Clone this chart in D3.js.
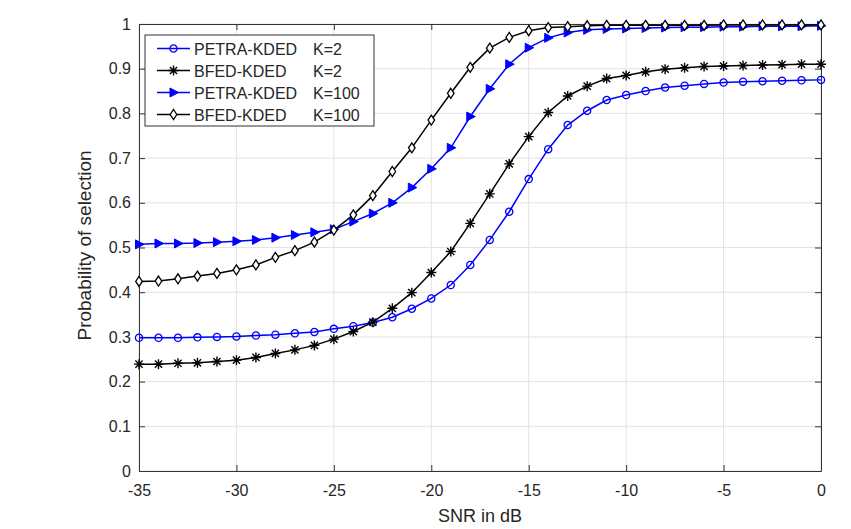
<!DOCTYPE html>
<html>
<head>
<meta charset="utf-8">
<script src="https://cdn.jsdelivr.net/npm/d3@7"></script>
<style>
  body { margin: 0; background: #fff; }
  svg text { font-family: "Liberation Sans", Arial, sans-serif; fill: #262626; }
</style>
</head>
<body>
<script>
// SNR values (dB)
const snr = [-35, -34, -33, -32, -31, -30, -29, -28, -27, -26, -25, -24, -23, -22, -21, -20, -19, -18,
             -17, -16, -15, -14, -13, -12, -11, -10, -9, -8, -7, -6, -5, -4, -3, -2, -1, 0];

const petraK2 = [0.298, 0.298, 0.298, 0.299, 0.300, 0.301, 0.303, 0.305, 0.308, 0.311, 0.318, 0.324,
                 0.332, 0.344, 0.363, 0.386, 0.416, 0.461, 0.517, 0.580, 0.653, 0.720, 0.774, 0.806,
                 0.830, 0.841, 0.850, 0.858, 0.862, 0.866, 0.869, 0.871, 0.872, 0.873, 0.874, 0.875];

const bfedK2 = [0.239, 0.239, 0.241, 0.242, 0.245, 0.248, 0.254, 0.263, 0.271, 0.281, 0.295, 0.312,
                0.333, 0.364, 0.399, 0.444, 0.491, 0.554, 0.620, 0.687, 0.748, 0.802, 0.839, 0.861,
                0.878, 0.885, 0.893, 0.899, 0.902, 0.905, 0.906, 0.907, 0.908, 0.909, 0.910, 0.910];

const petraK100 = [0.507, 0.509, 0.509, 0.510, 0.512, 0.514, 0.517, 0.522, 0.528, 0.534, 0.541, 0.558,
                   0.576, 0.600, 0.634, 0.676, 0.723, 0.793, 0.855, 0.910, 0.947, 0.969, 0.981, 0.987,
                   0.989, 0.990, 0.991, 0.992, 0.993, 0.993, 0.994, 0.994, 0.995, 0.995, 0.995, 0.996];

const bfedK100 = [0.424, 0.425, 0.430, 0.436, 0.442, 0.450, 0.461, 0.478, 0.493, 0.512, 0.539, 0.573,
                  0.616, 0.670, 0.723, 0.785, 0.845, 0.903, 0.946, 0.970, 0.985, 0.992, 0.994, 0.996,
                  0.997, 0.997, 0.997, 0.997, 0.997, 0.997, 0.998, 0.998, 0.998, 0.998, 0.998, 0.998];

const xTicks = [-35, -30, -25, -20, -15, -10, -5, 0];
const yTicks = [0, 0.1, 0.2, 0.3, 0.4, 0.5, 0.6, 0.7, 0.8, 0.9, 1];

const series = [
  { name: 'PETRA-KDED', k: 'K=2',   values: petraK2,   color: '#0000ff', marker: 'circle' },
  { name: 'BFED-KDED',  k: 'K=2',   values: bfedK2,    color: '#000000', marker: 'star' },
  { name: 'PETRA-KDED', k: 'K=100', values: petraK100, color: '#0000ff', marker: 'triangle' },
  { name: 'BFED-KDED',  k: 'K=100', values: bfedK100,  color: '#000000', marker: 'diamond' }
];

const W = 851, H = 529;
const margin = { top: 24, right: 30, bottom: 58, left: 139 };
const width = W - margin.left - margin.right;
const height = H - margin.top - margin.bottom;

const svg = d3.select('body').append('svg')
  .attr('width', W)
  .attr('height', H);

const g = svg.append('g')
  .attr('transform', `translate(${margin.left},${margin.top})`);

const x = d3.scaleLinear().domain([-35, 0]).range([0, width]);
const y = d3.scaleLinear().domain([0, 1]).range([height, 0]);

// grid
g.append('g').selectAll('line').data(xTicks).join('line')
  .attr('x1', d => x(d)).attr('x2', d => x(d))
  .attr('y1', 0).attr('y2', height)
  .attr('stroke', '#e3e3e3').attr('stroke-width', 1);
g.append('g').selectAll('line').data(yTicks).join('line')
  .attr('y1', d => y(d)).attr('y2', d => y(d))
  .attr('x1', 0).attr('x2', width)
  .attr('stroke', '#e3e3e3').attr('stroke-width', 1);

// axes (ticks inward, box on)
const axisColor = '#333';
const styleAxis = sel => {
  sel.select('.domain').attr('stroke', axisColor);
  sel.selectAll('.tick line').attr('stroke', axisColor);
  sel.selectAll('.tick text').attr('font-size', 16).attr('fill', '#262626')
    .attr('font-family', '"Liberation Sans", Arial, sans-serif');
};

g.append('g')
  .attr('transform', `translate(0,${height})`)
  .call(d3.axisBottom(x).tickValues(xTicks).tickFormat(d => String(d))
    .tickSizeInner(-6).tickSizeOuter(0).tickPadding(14))
  .call(styleAxis);

g.append('g')
  .call(d3.axisLeft(y).tickValues(yTicks).tickFormat(d => d === 0 || d === 1 ? String(d) : d.toFixed(1))
    .tickSizeInner(-6).tickSizeOuter(0).tickPadding(8))
  .call(styleAxis);

g.append('g')
  .call(d3.axisTop(x).tickValues(xTicks).tickSizeInner(-6).tickSizeOuter(0).tickFormat(''))
  .call(styleAxis);

g.append('g')
  .attr('transform', `translate(${width},0)`)
  .call(d3.axisRight(y).tickValues(yTicks).tickSizeInner(-6).tickSizeOuter(0).tickFormat(''))
  .call(styleAxis);

// labels
svg.append('text')
  .attr('x', margin.left + width / 2)
  .attr('y', 522)
  .attr('text-anchor', 'middle')
  .attr('font-size', 18)
  .text('SNR in dB');

svg.append('text')
  .attr('transform', `translate(91,${margin.top + height / 2 - 2}) rotate(-90)`)
  .attr('text-anchor', 'middle')
  .attr('font-size', 19)
  .text('Probability of selection');

// markers
function drawMarker(sel, type, color) {
  if (type === 'circle') {
    sel.append('circle').attr('r', 3.6)
      .attr('fill', 'none').attr('stroke', color).attr('stroke-width', 1.3);
  } else if (type === 'star') {
    const s = 5, d = 3.6;
    sel.append('path')
      .attr('d', `M${-s},0L${s},0M0,${-s}L0,${s}M${-d},${-d}L${d},${d}M${-d},${d}L${d},${-d}`)
      .attr('stroke', color).attr('stroke-width', 1.4).attr('fill', 'none');
  } else if (type === 'triangle') {
    sel.append('path')
      .attr('d', 'M5,0L-3.5,-4.5L-3.5,4.5Z')
      .attr('fill', color).attr('stroke', color).attr('stroke-width', 1);
  } else if (type === 'diamond') {
    sel.append('path')
      .attr('d', 'M0,-5L3.3,0L0,5L-3.3,0Z')
      .attr('fill', '#fff').attr('stroke', color).attr('stroke-width', 1.3);
  }
}

const line = d3.line()
  .x((d, i) => x(snr[i]))
  .y(d => y(d));

series.forEach(s => {
  g.append('path')
    .datum(s.values)
    .attr('d', line)
    .attr('fill', 'none')
    .attr('stroke', s.color)
    .attr('stroke-width', 1.5);

  g.append('g').selectAll('g').data(s.values).join('g')
    .attr('transform', (d, i) => `translate(${x(snr[i])},${y(d)})`)
    .each(function () { drawMarker(d3.select(this), s.marker, s.color); });
});

// legend
const legend = svg.append('g').attr('transform', 'translate(145,35)');
legend.append('rect')
  .attr('width', 229).attr('height', 91)
  .attr('fill', '#fff').attr('stroke', axisColor).attr('stroke-width', 1);

series.forEach((s, i) => {
  const ly = 13.5 + i * 22;
  const row = legend.append('g').attr('transform', `translate(0,${ly})`);
  row.append('line').attr('x1', 12).attr('x2', 45).attr('y1', 0).attr('y2', 0)
    .attr('stroke', s.color).attr('stroke-width', 1.5);
  drawMarker(row.append('g').attr('transform', 'translate(28.5,0)'), s.marker, s.color);
  row.append('text').attr('x', 49).attr('y', 6).attr('font-size', 16).text(s.name);
  row.append('text').attr('x', 168).attr('y', 6).attr('font-size', 16).text(s.k);
});
</script>
</body>
</html>
